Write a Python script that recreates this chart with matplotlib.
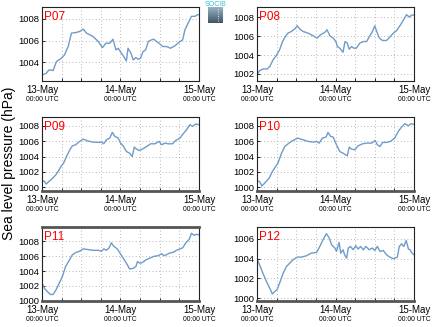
import numpy as np
import matplotlib
matplotlib.use("Agg")
import matplotlib.pyplot as plt

plt.rcParams['font.family'] = ['Liberation Sans', 'DejaVu Sans']

# hours since 13-May 00:00 UTC and sea level pressure (hPa)
p07_h = [0.0, 1.3, 2.1, 2.9, 3.4, 4.4, 5.9, 6.9, 8.0, 9.0, 10.5, 11.5, 12.6, 13.6, 15.6, 17.2,
         18.5, 19.5, 20.7, 21.7, 22.6, 23.3, 24.3, 25.0, 25.8, 26.3, 27.2, 27.9, 28.7, 29.4,
         30.1, 30.9, 31.7, 32.5, 33.5, 34.2, 35.0, 35.8, 36.9, 38.1, 39.3, 40.6, 42.2, 43.0,
         43.7, 44.7, 45.7, 46.8, 47.5, 48.0]
p07_v = [1002.83, 1002.98, 1003.29, 1003.29, 1003.23, 1004.06, 1004.37, 1004.68, 1005.45,
         1006.68, 1006.74, 1006.83, 1007.05, 1006.68, 1006.37, 1005.91, 1005.35, 1005.75,
         1005.75, 1006.12, 1005.14, 1005.29, 1004.83, 1004.52, 1004.12, 1005.29, 1004.83,
         1004.22, 1004.43, 1004.28, 1004.37, 1004.98, 1005.14, 1005.91, 1006.06, 1006.12,
         1005.91, 1005.75, 1005.45, 1005.45, 1005.29, 1005.51, 1005.91, 1006.06, 1006.98,
         1007.60, 1008.22, 1008.22, 1008.37, 1008.37]

p08_h = [0.0, 0.8, 1.8, 3.1, 3.9, 4.9, 5.9, 6.9, 7.8, 8.8, 9.5, 10.5, 11.5, 12.3, 13.1, 14.1,
         15.6, 17.2, 18.4, 19.4, 20.7, 21.4, 22.3, 23.3, 24.1, 24.6, 25.3, 26.3, 26.9, 27.6,
         28.2, 28.9, 29.6, 30.4, 31.4, 32.5, 33.5, 34.5, 35.3, 36.0, 36.6, 37.4, 38.4, 39.6,
         40.6, 41.7, 42.7, 43.9, 44.7, 45.7, 46.6, 47.3, 48.0]
p08_v = [1001.90, 1002.35, 1002.53, 1002.53, 1002.78, 1003.48, 1003.94, 1004.54, 1005.42,
         1006.02, 1006.31, 1006.48, 1006.73, 1007.08, 1006.73, 1006.48, 1006.31, 1006.02,
         1005.78, 1006.13, 1006.38, 1006.66, 1006.02, 1005.78, 1005.42, 1004.89, 1004.72,
         1004.29, 1005.42, 1005.25, 1004.61, 1004.89, 1004.72, 1004.72, 1005.25, 1005.42,
         1005.42, 1006.02, 1006.48, 1007.08, 1006.48, 1005.78, 1005.53, 1005.53, 1005.88,
         1006.31, 1006.59, 1007.19, 1007.65, 1008.25, 1008.00, 1008.21, 1008.21]

p09_h = [0.0, 0.6, 1.3, 2.1, 3.2, 4.2, 5.2, 5.9, 6.6, 7.5, 8.5, 9.3, 10.3, 11.5, 12.6, 13.8,
         15.6, 17.2, 18.2, 18.9, 19.7, 20.7, 21.5, 22.3, 23.3, 24.0, 24.8, 25.8, 26.8, 27.6,
         28.2, 28.9, 29.7, 30.7, 32.0, 33.2, 34.5, 35.8, 36.6, 37.6, 38.6, 39.9, 40.9, 42.2,
         43.2, 44.2, 45.2, 46.0, 47.0, 48.0]
p09_v = [1000.74, 1000.83, 1000.43, 1000.74, 1001.17, 1001.61, 1002.26, 1002.78, 1003.13,
         1004.00, 1004.87, 1005.39, 1005.52, 1005.96, 1006.26, 1006.04, 1005.87, 1005.83,
         1005.87, 1005.65, 1006.17, 1006.39, 1007.13, 1006.61, 1006.39, 1005.74, 1005.39,
         1004.65, 1004.43, 1004.00, 1005.22, 1004.96, 1004.78, 1004.96, 1005.30, 1005.65,
         1005.65, 1005.96, 1005.52, 1005.74, 1005.65, 1005.65, 1006.09, 1006.39, 1006.96,
         1007.48, 1008.13, 1007.91, 1008.22, 1008.13]

p10_h = [0.0, 0.8, 1.5, 2.3, 3.7, 4.7, 5.7, 6.4, 7.5, 8.5, 9.5, 10.5, 11.8, 12.6, 13.3, 14.1,
         15.6, 17.2, 18.2, 19.0, 20.0, 21.1, 21.7, 22.5, 23.3, 24.3, 25.3, 26.3, 27.6, 28.2,
         28.9, 29.9, 30.9, 32.3, 33.5, 35.1, 36.1, 36.8, 37.6, 38.4, 39.6, 40.8, 42.1, 43.2,
         44.2, 45.2, 46.3, 47.1, 48.0]
p10_v = [1000.87, 1000.74, 1000.17, 1000.52, 1001.17, 1002.04, 1002.70, 1003.13, 1004.43,
         1005.30, 1005.65, 1005.96, 1006.26, 1006.39, 1006.26, 1006.17, 1005.96, 1005.87,
         1005.96, 1005.74, 1006.39, 1006.52, 1007.13, 1006.61, 1006.52, 1005.52, 1004.65,
         1004.43, 1004.09, 1005.22, 1004.96, 1004.87, 1005.39, 1005.65, 1005.74, 1005.74,
         1006.09, 1005.52, 1005.30, 1005.83, 1005.83, 1005.96, 1006.39, 1007.26, 1007.83,
         1008.26, 1008.00, 1008.26, 1008.17]

p11_h = [0.0, 0.8, 1.8, 2.6, 3.4, 4.2, 5.2, 6.2, 7.2, 8.3, 9.3, 10.5, 11.5, 12.6, 14.1, 15.6,
         17.2, 18.2, 18.9, 19.7, 20.5, 21.2, 21.9, 23.0, 23.8, 24.8, 25.8, 26.8, 27.9, 28.7,
         29.2, 29.9, 30.7, 31.8, 33.0, 34.2, 35.5, 36.6, 37.3, 38.1, 39.1, 40.1, 41.1, 42.2,
         43.0, 44.0, 45.0, 45.7, 46.5, 47.3, 48.0]
p11_v = [1002.39, 1001.61, 1001.15, 1000.83, 1000.83, 1001.38, 1002.30, 1003.22, 1004.60,
         1005.43, 1006.21, 1006.53, 1006.67, 1006.99, 1006.90, 1006.80, 1006.80, 1006.67,
         1006.99, 1006.80, 1007.13, 1007.82, 1007.36, 1006.99, 1006.44, 1005.75, 1005.06,
         1004.28, 1004.37, 1004.60, 1005.29, 1005.06, 1005.15, 1005.52, 1005.75, 1005.98,
         1006.07, 1006.34, 1006.07, 1006.21, 1006.44, 1006.53, 1006.80, 1006.99, 1007.13,
         1007.82, 1008.28, 1009.10, 1008.83, 1008.97, 1008.87]

p12_h = [0.0, 0.8, 1.8, 2.9, 3.9, 4.7, 5.4, 6.2, 6.9, 8.0, 9.0, 10.0, 11.0, 12.3, 13.6, 15.1,
         16.6, 18.2, 19.2, 20.2, 21.2, 22.1, 22.8, 23.8, 24.3, 25.1, 25.6, 26.3, 26.8, 27.4,
         27.9, 28.6, 29.4, 30.2, 30.9, 31.7, 32.5, 33.3, 34.3, 35.3, 36.0, 36.8, 37.6, 38.6,
         39.6, 40.6, 41.7, 42.9, 43.5, 44.2, 44.9, 45.6, 46.3, 46.8, 47.4, 48.0]
p12_v = [1003.94, 1003.37, 1002.53, 1001.69, 1001.01, 1000.44, 1000.67, 1000.91, 1001.52,
         1002.53, 1003.20, 1003.54, 1003.88, 1004.15, 1004.15, 1004.28, 1004.55, 1004.62,
         1005.22, 1005.90, 1006.51, 1006.07, 1005.39, 1005.06, 1004.72, 1005.63, 1004.55,
         1004.89, 1004.38, 1004.04, 1005.06, 1005.22, 1004.89, 1005.29, 1004.96, 1005.22,
         1004.89, 1005.22, 1004.89, 1005.06, 1004.82, 1005.22, 1004.72, 1004.82, 1004.38,
         1004.15, 1003.98, 1004.15, 1005.22, 1005.49, 1005.22, 1005.83, 1004.96, 1004.89,
         1004.55, 1004.38]

names = ['P07', 'P08', 'P09', 'P10', 'P11', 'P12']
hours = [p07_h, p08_h, p09_h, p10_h, p11_h, p12_h]
values = [p07_v, p08_v, p09_v, p10_v, p11_v, p12_v]
ylims = [(1002.28, 1009.08), (1001.26, 1009.06), (999.52, 1009.13),
         (999.52, 1009.13), (999.95, 1009.95), (999.73, 1007.18)]

day_ticks = [0, 24, 48]
day_labels = ['13-May', '14-May', '15-May']
time_label = '00:00 UTC'

W, H = 434, 327
fig = plt.figure(figsize=(W / 100, H / 100), dpi=100)

lefts = [42, 257]
tops = [7, 117, 227]
aw, ah = 157, 74

line_color = '#6f9cc8'

for i, name in enumerate(names):
    r, c = divmod(i, 2)
    ax = fig.add_axes([lefts[c] / W, 1 - (tops[r] + ah) / H, aw / W, ah / H])
    ax.plot(hours[i], values[i], color=line_color, lw=1.0)
    ax.set_xlim(0, 48)
    ax.set_yticks(np.arange(1000, 1011, 2))
    ax.set_ylim(*ylims[i])
    ax.set_xticks(day_ticks)
    ax.set_xticklabels(day_labels)
    ax.set_xticks(np.arange(0, 49, 6), minor=True)
    ax.grid(True, which='both', ls=(0, (1, 3)), color='#a0a0a0', lw=0.6)
    ax.tick_params(which='both', direction='in', length=2, width=0.6, pad=2)
    ax.tick_params(axis='y', labelsize=6.8)
    ax.tick_params(axis='x', which='major', pad=3, labelsize=7)
    for s in ax.spines.values():
        s.set_linewidth(0.8)
        s.set_color('#222222')
    if r > 0:
        ax.spines['bottom'].set_linewidth(2.0)
        ax.spines['bottom'].set_color('#555555')
    if i == 4:
        ax.spines['top'].set_linewidth(2.0)
        ax.spines['top'].set_color('#555555')
    for t in day_ticks:
        ax.text(t, -0.255, time_label, transform=ax.get_xaxis_transform(),
                ha='center', va='center', fontsize=4.9)
    ax.text(0.01, 0.95, name, transform=ax.transAxes, color='red',
            fontsize=8.5, ha='left', va='top')

fig.text(0.021, 0.5, 'Sea level pressure (hPa)', rotation=90,
         ha='center', va='center', fontsize=10)

# logo
lax = fig.add_axes([208 / W, 1 - 23 / H, 15 / W, 16 / H])
grad = np.linspace(0, 1, 50).reshape(-1, 1)
lax.imshow(grad, cmap=matplotlib.colors.LinearSegmentedColormap.from_list(
    'logo', ['#9ab2c2', '#3e5766']), aspect='auto', extent=(0, 1, 1, 0))
lax.plot([0.7, 0.7], [0.1, 0.9], color='white', ls=':', lw=0.6)
lax.set_xlim(0, 1)
lax.set_ylim(1, 0)
lax.axis('off')
fig.text(215.5 / W, 1 - 4.3 / H, 'SOCIB', color='#33c0d8', fontsize=5,
         ha='center', va='center')

fig.savefig('out.png', dpi=100)
